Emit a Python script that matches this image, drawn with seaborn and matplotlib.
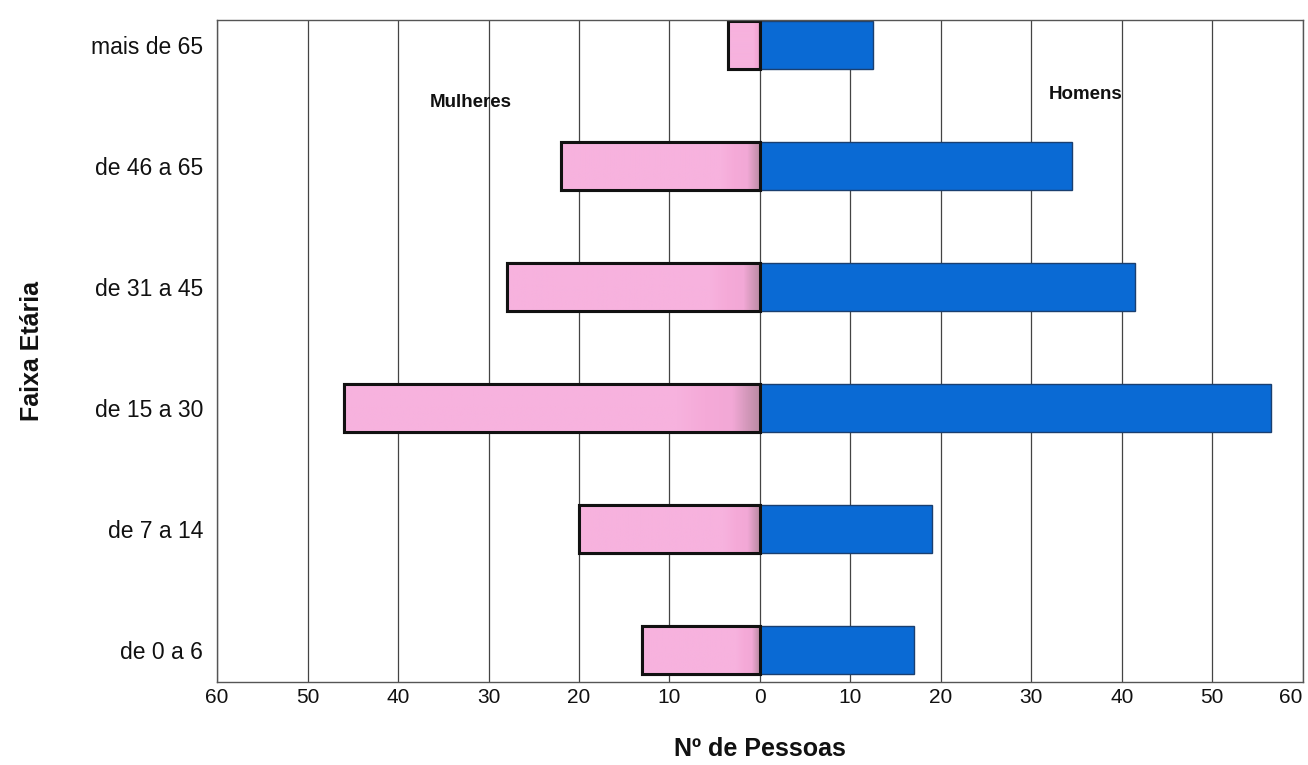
import numpy as np
import pandas as pd
import matplotlib.pyplot as plt
import seaborn as sns
from matplotlib.colors import LinearSegmentedColormap

# dados
faixas = ['mais de 65', 'de 46 a 65', 'de 31 a 45', 'de 15 a 30', 'de 7 a 14', 'de 0 a 6']
mulheres = [3.5, 22, 28, 46, 20, 13]
homens = [12.5, 34.5, 41.5, 56.5, 19, 17]
ticks = [-60, -50, -40, -30, -20, -10, 0, 10, 20, 30, 40, 50, 60]

sns.set_theme(style='white')
plt.rcParams['font.family'] = ['Liberation Sans', 'DejaVu Sans']

df = pd.DataFrame({'faixa': faixas,
                   'mulheres': -np.array(mulheres),
                   'homens': np.array(homens)})

fig, ax = plt.subplots(figsize=(13.08, 7.65), dpi=100)
fig.subplots_adjust(left=0.166, right=0.996, top=0.974, bottom=0.108)

sns.barplot(data=df, x='mulheres', y='faixa', order=faixas, orient='h',
            color='#f5aad8', saturation=1, width=0.4,
            edgecolor='#111111', linewidth=2.2, ax=ax)
sns.barplot(data=df, x='homens', y='faixa', order=faixas, orient='h',
            color='#0a6ad4', saturation=1, width=0.4,
            edgecolor='#1a3f70', linewidth=1, ax=ax)

# degradê rosa -> acinzentado perto do zero
cmap = LinearSegmentedColormap.from_list('rosa', ['#f7b2de', '#f5aad8', '#f2a8d6', '#b98aa2'])
grad = np.linspace(0, 1, 256).reshape(1, -1)
grad = np.clip((grad - 0.8) / 0.2, 0, 1) * 0.999
for patch in ax.containers[0]:
    x0, y0 = patch.get_x(), patch.get_y()
    w, h = patch.get_width(), patch.get_height()
    xa, xb = min(x0, x0 + w), max(x0, x0 + w)
    im = ax.imshow(grad, cmap=cmap, vmin=0, vmax=1, aspect='auto',
                   extent=(xa, xb, y0 + h, y0), zorder=patch.get_zorder() + 0.1)
    im.set_clip_path(patch)
    patch.set_facecolor('none')
    edge = plt.Rectangle((xa, y0), xb - xa, h, fill=False, edgecolor='#111111',
                         linewidth=2.2, zorder=patch.get_zorder() + 0.2)
    ax.add_patch(edge)

ax.set_xlim(-60, 60)
ax.set_ylim(5.27, -0.21)
ax.set_xticks(ticks)
ax.set_xticklabels([str(abs(t)) for t in ticks], fontsize=15, color='#111111')
ax.get_xticklabels()[-1].set_horizontalalignment('right')
ax.get_xticklabels()[0].set_horizontalalignment('center')
ax.tick_params(axis='y', labelsize=16.5, labelcolor='#111111', length=0, pad=10)
ax.tick_params(axis='x', length=0, pad=4)
ax.grid(axis='x', color='#444444', linewidth=0.9)
ax.set_axisbelow(True)
for s in ax.spines.values():
    s.set_color('#555555')
    s.set_linewidth(1)

ax.set_xlabel('Nº de Pessoas', fontsize=18, fontweight='bold', labelpad=22, color='#111111')
ax.set_ylabel('Faixa Etária', fontsize=18, fontweight='bold', labelpad=34, color='#111111')

ax.text(-32, 0.47, 'Mulheres', fontsize=13.5, fontweight='bold', ha='center', va='center',
        color='#111111')
ax.text(36, 0.41, 'Homens', fontsize=13.5, fontweight='bold', ha='center', va='center',
        color='#111111')

plt.savefig('out.png', dpi=100)
